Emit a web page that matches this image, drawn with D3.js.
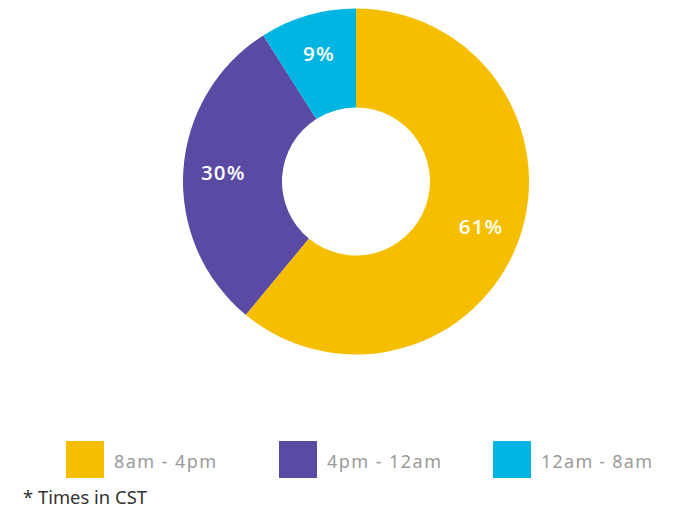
<!DOCTYPE html>
<html>
<head>
<meta charset="utf-8">
<script src="https://cdn.jsdelivr.net/npm/d3@7"></script>
<style>
  html, body { margin: 0; padding: 0; background: #fff; }
  svg { display: block; }
</style>
</head>
<body>
<svg id="chart" width="675" height="508"></svg>
<script>
// Share of activity by time-of-day shift
const categories = ["8am - 4pm", "4pm - 12am", "12am - 8am"];
const values = [61, 30, 9];
const colors = ["#f5bf00", "#5a4aa4", "#00b5e1"];

const svg = d3.select("#chart");
const cx = 356, cy = 181.5;
const outerR = 173, innerR = 74, labelR = 133;

const pie = d3.pie().sort(null).value(d => d.value);
const arcs = pie(categories.map((c, i) => ({ name: c, value: values[i], color: colors[i] })));

const arc = d3.arc().innerRadius(innerR).outerRadius(outerR);
const labelArc = d3.arc().innerRadius(labelR).outerRadius(labelR);

const g = svg.append("g").attr("transform", `translate(${cx},${cy})`);

g.selectAll("path.slice")
  .data(arcs)
  .join("path")
  .attr("class", "slice")
  .attr("d", arc)
  .attr("fill", d => d.data.color);

g.selectAll("text.pct")
  .data(arcs)
  .join("text")
  .attr("class", "pct")
  .attr("transform", d => `translate(${labelArc.centroid(d)})`)
  .attr("text-anchor", "middle")
  .attr("dy", "0.35em")
  .attr("fill", "#fff")
  .attr("font-family", "'Open Sans', sans-serif")
  .attr("font-weight", 600)
  .attr("font-size", 20.5)
  .attr("letter-spacing", 1.2)
  .text(d => d.data.value + "%");

// Legend
const legendX = [66, 279, 493];
const legendW = [102, 114, 111];
const legend = svg.append("g");
const items = legend.selectAll("g")
  .data(categories)
  .join("g")
  .attr("transform", (d, i) => `translate(${legendX[i]},441)`);

items.append("rect")
  .attr("width", 38)
  .attr("height", 37)
  .attr("fill", (d, i) => colors[i]);

items.append("text")
  .attr("x", 48)
  .attr("y", 26.5)
  .attr("fill", "#9a9a9a")
  .attr("font-family", "'Noto Sans', sans-serif")
  .attr("font-size", 18)
  .attr("textLength", (d, i) => legendW[i])
  .attr("lengthAdjust", "spacing")
  .text(d => d);

svg.append("text")
  .attr("x", 23)
  .attr("y", 504)
  .attr("fill", "#333")
  .attr("font-family", "'Noto Sans', sans-serif")
  .attr("font-size", 17.5)
  .attr("textLength", 124)
  .attr("lengthAdjust", "spacingAndGlyphs")
  .text("* Times in CST");
</script>
</body>
</html>
